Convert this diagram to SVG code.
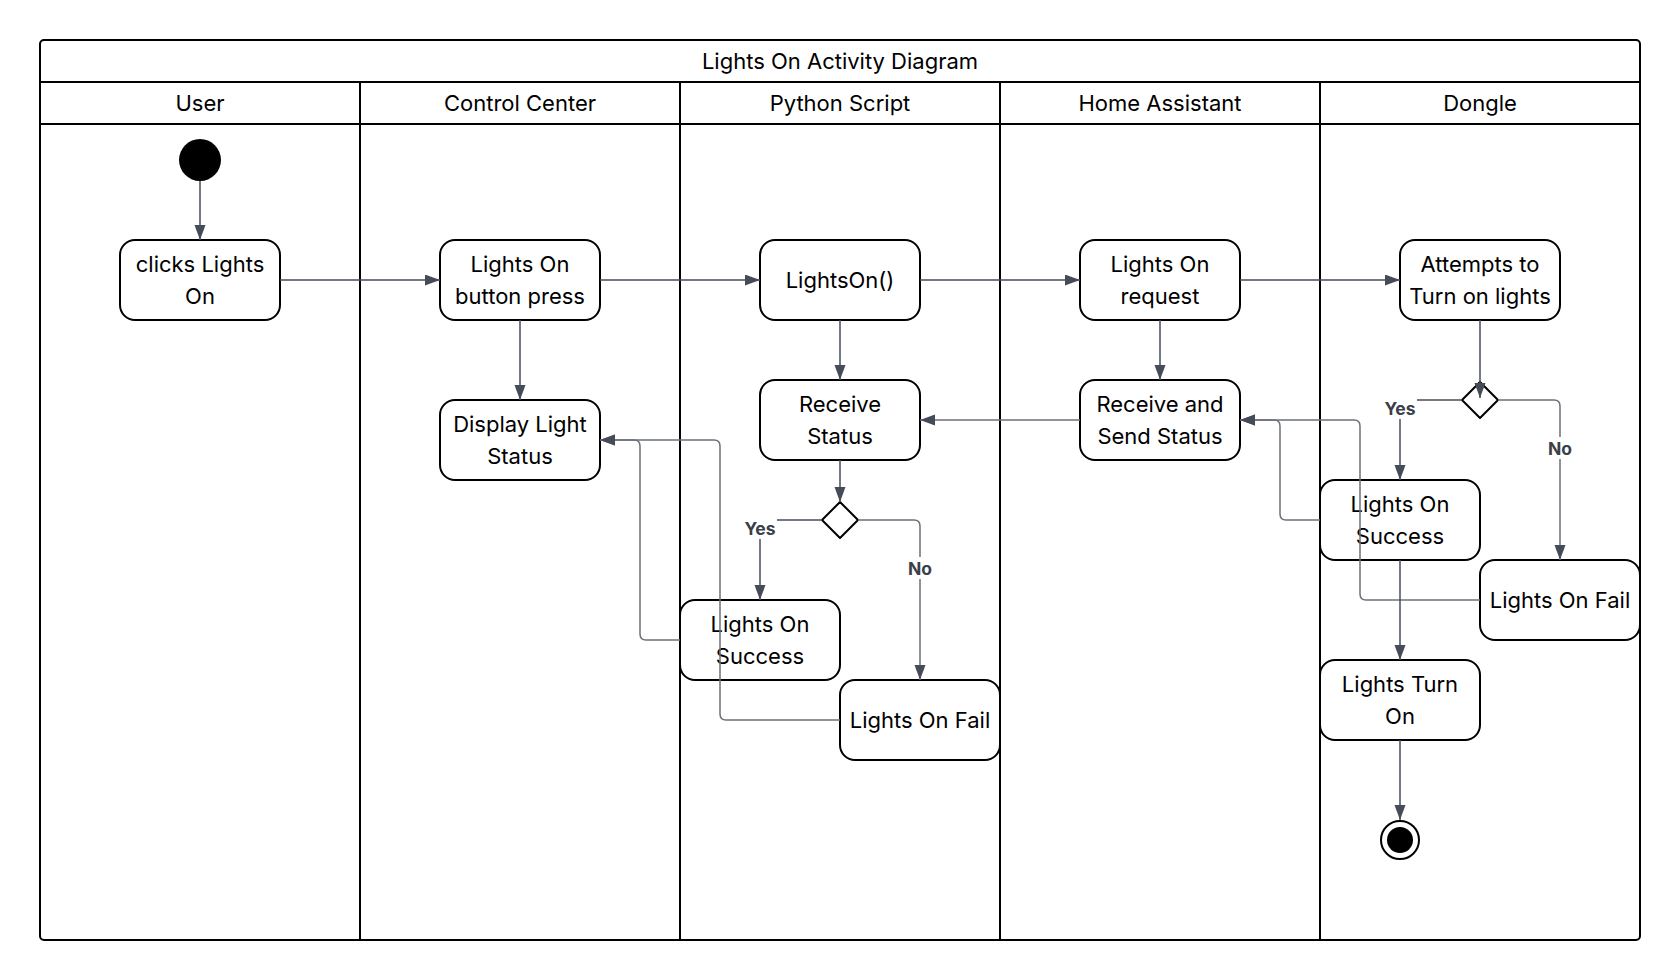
<svg xmlns="http://www.w3.org/2000/svg" width="1680" height="980" viewBox="0 0 1680 980">
<style>
.lane{fill:none;stroke:#000;stroke-width:2}
.box{fill:#fff;stroke:#000;stroke-width:2}
.t{font-family:Inter,"Liberation Sans",sans-serif;font-size:22px;fill:#000;text-anchor:middle}
.c{fill:none;stroke:#474d59;stroke-width:1.5}
.r{fill:none;stroke:#6b7079;stroke-width:1.5}
.lb{font-family:Inter,"Liberation Sans",sans-serif;font-size:17.5px;font-weight:bold;fill:#3a3f4a;text-anchor:middle}
</style>
<defs>
<marker id="ah" markerUnits="userSpaceOnUse" markerWidth="16" markerHeight="12" refX="15" refY="5.5" orient="auto">
<path d="M0,0 L15,5.5 L0,11 z" fill="#454b57"/>
</marker>
</defs>
<rect width="1680" height="980" fill="#fff"/>
<g id="frame">
<rect class="lane" x="40" y="40" width="1600" height="900" rx="4"/>
<line class="lane" x1="40" y1="82" x2="1640" y2="82"/>
<line class="lane" x1="40" y1="124" x2="1640" y2="124"/>
<line class="lane" x1="360" y1="82" x2="360" y2="940"/>
<line class="lane" x1="680" y1="82" x2="680" y2="940"/>
<line class="lane" x1="1000" y1="82" x2="1000" y2="940"/>
<line class="lane" x1="1320" y1="82" x2="1320" y2="940"/>
<text class="t" x="840" y="69">Lights On Activity Diagram</text>
<text class="t" x="200" y="111">User</text>
<text class="t" x="520" y="111">Control Center</text>
<text class="t" x="840" y="111">Python Script</text>
<text class="t" x="1160" y="111">Home Assistant</text>
<text class="t" x="1480" y="111">Dongle</text>
</g>
<g id="start"><circle cx="200" cy="160" r="21" fill="#000"/></g>
<g id="clicks"><rect class="box" x="120" y="240" width="160" height="80" rx="15"/><text class="t" x="200" y="272">clicks Lights</text><text class="t" x="200" y="304">On</text></g>
<g id="press"><rect class="box" x="440" y="240" width="160" height="80" rx="15"/><text class="t" x="520" y="272">Lights On</text><text class="t" x="520" y="304">button press</text></g>
<g id="lightson"><rect class="box" x="760" y="240" width="160" height="80" rx="15"/><text class="t" x="840" y="288">LightsOn()</text></g>
<g id="request"><rect class="box" x="1080" y="240" width="160" height="80" rx="15"/><text class="t" x="1160" y="272">Lights On</text><text class="t" x="1160" y="304">request</text></g>
<g id="attempts"><rect class="box" x="1400" y="240" width="160" height="80" rx="15"/><text class="t" x="1480" y="272">Attempts to</text><text class="t" x="1480" y="304">Turn on lights</text></g>
<g id="display"><rect class="box" x="440" y="400" width="160" height="80" rx="15"/><text class="t" x="520" y="432">Display Light</text><text class="t" x="520" y="464">Status</text></g>
<g id="receive"><rect class="box" x="760" y="380" width="160" height="80" rx="15"/><text class="t" x="840" y="412">Receive</text><text class="t" x="840" y="444">Status</text></g>
<g id="recvsend"><rect class="box" x="1080" y="380" width="160" height="80" rx="15"/><text class="t" x="1160" y="412">Receive and</text><text class="t" x="1160" y="444">Send Status</text></g>
<g id="decPy"><path class="box" d="M840,502 L858,520 L840,538 L822,520 Z" stroke-linejoin="round"/></g>
<g id="pySuccess"><rect class="box" x="680" y="600" width="160" height="80" rx="15"/><text class="t" x="760" y="632">Lights On</text><text class="t" x="760" y="664">Success</text></g>
<g id="pyFail"><rect class="box" x="840" y="680" width="160" height="80" rx="15"/><text class="t" x="920" y="728">Lights On Fail</text></g>
<g id="decDongle"><path class="box" d="M1480,382 L1498,400 L1480,418 L1462,400 Z" stroke-linejoin="round"/></g>
<g id="dSuccess"><rect class="box" x="1320" y="480" width="160" height="80" rx="15"/><text class="t" x="1400" y="512">Lights On</text><text class="t" x="1400" y="544">Success</text></g>
<g id="dFail"><rect class="box" x="1480" y="560" width="160" height="80" rx="15"/><text class="t" x="1560" y="608">Lights On Fail</text></g>
<g id="turnon"><rect class="box" x="1320" y="660" width="160" height="80" rx="15"/><text class="t" x="1400" y="692">Lights Turn</text><text class="t" x="1400" y="724">On</text></g>
<g id="end"><circle cx="1400" cy="840" r="19" fill="#fff" stroke="#000" stroke-width="2"/><circle cx="1400" cy="840" r="13" fill="#000"/></g>
<g id="connectors">
<path class="c" d="M200,181 V240" marker-end="url(#ah)"/>
<path class="c" d="M280,280 H440" marker-end="url(#ah)"/>
<path class="c" d="M600,280 H760" marker-end="url(#ah)"/>
<path class="c" d="M920,280 H1080" marker-end="url(#ah)"/>
<path class="c" d="M1240,280 H1400" marker-end="url(#ah)"/>
<path class="c" d="M520,320 V400" marker-end="url(#ah)"/>
<path class="c" d="M840,320 V380" marker-end="url(#ah)"/>
<path class="c" d="M1160,320 V380" marker-end="url(#ah)"/>
<path class="c" d="M1480,320 V398" marker-end="url(#ah)"/>
<path class="r" d="M1080,420 H920" marker-end="url(#ah)"/>
<path class="c" d="M840,460 V502" marker-end="url(#ah)"/>
<path class="c" d="M822,520 H760 V600" stroke-width="2" marker-end="url(#ah)"/>
<path class="r" d="M858,520 H914 Q920,520 920,526 V680" marker-end="url(#ah)"/>
<path class="r" d="M680,640 H646 Q640,640 640,634 V446 Q640,440 634,440 H600" marker-end="url(#ah)"/>
<path class="r" d="M840,720 H726 Q720,720 720,714 V446 Q720,440 714,440 H600" marker-end="url(#ah)"/>
<path class="c" d="M1462,400 H1400 V480" stroke-width="2" marker-end="url(#ah)"/>
<path class="r" d="M1498,400 H1554 Q1560,400 1560,406 V560" marker-end="url(#ah)"/>
<path class="r" d="M1320,520 H1286 Q1280,520 1280,514 V426 Q1280,420 1274,420 H1240" marker-end="url(#ah)"/>
<path class="r" d="M1480,600 H1366 Q1360,600 1360,594 V426 Q1360,420 1354,420 H1240" marker-end="url(#ah)"/>
<path class="c" d="M1400,560 V660" marker-end="url(#ah)"/>
<path class="c" d="M1400,740 V820" marker-end="url(#ah)"/>
<rect x="743" y="517" width="34" height="22" fill="#fff"/>
<text class="lb" x="760" y="535">Yes</text>
<rect x="906" y="557" width="28" height="22" fill="#fff"/>
<text class="lb" x="920" y="575">No</text>
<rect x="1383" y="397" width="34" height="22" fill="#fff"/>
<text class="lb" x="1400" y="415">Yes</text>
<rect x="1546" y="437" width="28" height="22" fill="#fff"/>
<text class="lb" x="1560" y="455">No</text>
</g>
</svg>
